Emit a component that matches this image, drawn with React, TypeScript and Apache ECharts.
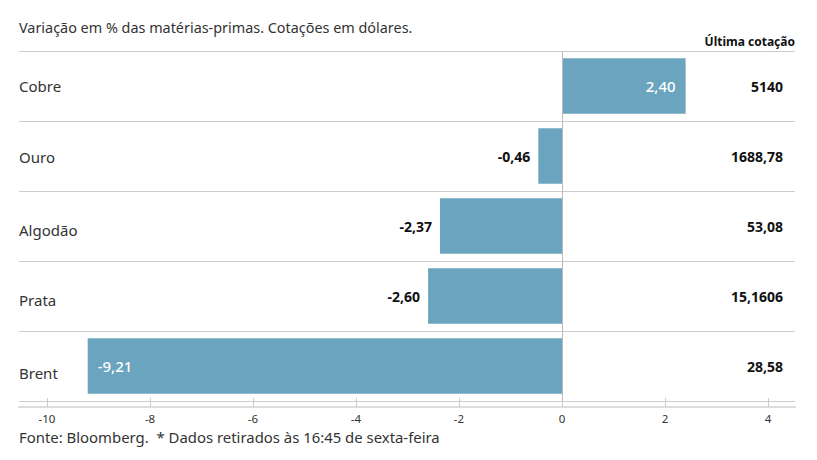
import React, { useEffect, useRef } from 'react';
import * as echarts from 'echarts';

const titleText = 'Variação em % das matérias-primas. Cotações em dólares.';
const quoteHeader = 'Última cotação';
const footerText = 'Fonte: Bloomberg.  * Dados retirados às 16:45 de sexta-feira';

const categories = ['Cobre', 'Ouro', 'Algodão', 'Prata', 'Brent'];
const variation = [2.4, -0.46, -2.37, -2.6, -9.21];
const lastQuote = ['5140', '1688,78', '53,08', '15,1606', '28,58'];
const xTicks = [-10, -8, -6, -4, -2, 0, 2, 4];

const FONT = 'Noto Sans';
const BAR = '#6aa4be';

const fmt = (v: number) => v.toFixed(2).replace('.', ',');

export default function App() {
  const ref = useRef<HTMLDivElement>(null);
  useEffect(() => {
    if (!ref.current) return;
    const chart = echarts.init(ref.current, undefined, { renderer: 'svg' });
    const labelShift = [0, 1, 4, 4, 7];
    const rich: any = {};
    labelShift.forEach((s, i) => {
      rich['c' + i] = {
        fontSize: 15,
        color: '#333',
        fontFamily: FONT,
        padding: [s * 2, 0, 0, 0],
      };
    });
    const option: any = {
      animation: false,
      backgroundColor: '#ffffff',
      textStyle: { fontFamily: FONT },
      title: [
        { text: titleText, left: 19, top: 20, padding: 0, textStyle: { fontFamily: FONT, fontSize: 14.4, fontWeight: 'normal', color: '#333' } },
        { text: quoteHeader, right: 22, top: 35, padding: 0, textStyle: { fontFamily: FONT, fontSize: 12, fontWeight: 'bold', color: '#111' } },
        { text: footerText, left: 19, top: 429, padding: 0, textStyle: { fontFamily: FONT, fontSize: 14.9, lineHeight: 15, fontWeight: 'normal', color: '#333' } },
      ],
      grid: { left: 19, right: 22, top: 51, bottom: 59, containLabel: false },
      xAxis: {
        type: 'value',
        min: -10.544,
        max: 4.524,
        offset: 6,
        axisLine: { show: true, lineStyle: { color: '#dcdcdc', width: 2 } },
        axisTick: { show: true, inside: true, length: 9, customValues: xTicks, lineStyle: { color: '#cccccc' } },
        axisLabel: { show: true, customValues: xTicks, margin: 5, fontSize: 11.5, lineHeight: 12, color: '#333', fontFamily: FONT, formatter: (v: number) => String(v) },
        splitLine: { show: false },
      },
      yAxis: [
        {
          type: 'category',
          inverse: true,
          data: categories,
          axisLine: { show: false },
          axisTick: { show: false },
          splitLine: { show: true, interval: (i: number) => i < categories.length, lineStyle: { color: '#cccccc', width: 1 } },
          axisLabel: {
            inside: true,
            margin: 0,
            fontSize: 15,
            color: '#333',
            fontFamily: FONT,
            formatter: (v: string, i: number) => `{c${i}|${v}}`,
            rich,
          },
        },
        {
          type: 'category',
          inverse: true,
          position: 'right',
          data: categories,
          axisLine: { show: false },
          axisTick: { show: false },
          splitLine: { show: false },
          axisLabel: {
            inside: true,
            margin: 12,
            fontSize: 14,
            fontWeight: 'bold',
            color: '#111',
            fontFamily: FONT,
            formatter: (_v: string, i: number) => lastQuote[i],
          },
        },
      ],
      series: [
        {
          type: 'bar',
          yAxisIndex: 0,
          barCategoryGap: '21%',
          itemStyle: { color: BAR },
          data: variation.map((v) => {
            const inside = v > 0 || v < -5;
            return {
              value: v,
              label: {
                show: true,
                position: v > 0 ? 'insideRight' : v < -5 ? 'insideLeft' : 'left',
                distance: inside ? 10 : 8,
                color: inside ? '#ffffff' : '#111',
                fontWeight: inside ? 500 : 'bold',
                fontSize: inside ? 15 : 14,
                fontFamily: FONT,
                formatter: () => fmt(v),
              },
            };
          }),
          markLine: {
            silent: true,
            symbol: 'none',
            label: { show: false },
            lineStyle: { color: '#bbbbbb', width: 1, type: 'solid' },
            data: [{ xAxis: 0 }],
          },
        },
      ],
    };
    chart.setOption(option);
    return () => chart.dispose();
  }, []);
  return <div ref={ref} style={{ position: 'fixed', left: 0, top: 0, width: 817, height: 460 }} />;
}
